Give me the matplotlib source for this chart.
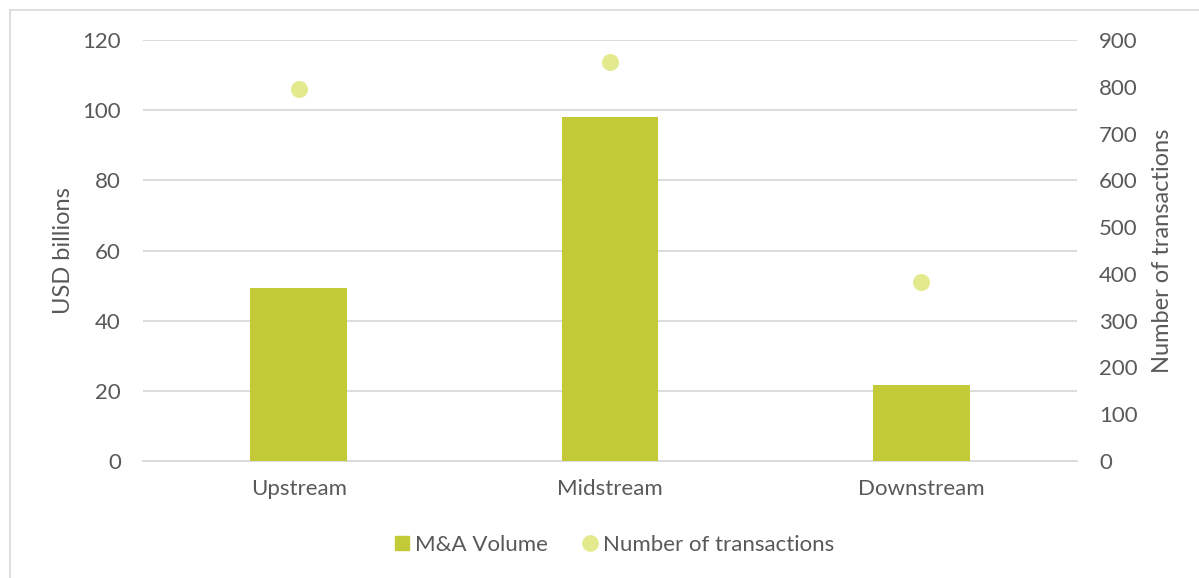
import matplotlib
matplotlib.use("Agg")
import matplotlib.pyplot as plt
from matplotlib.lines import Line2D

categories = ["Upstream", "Midstream", "Downstream"]
volume = [49.3, 98.0, 21.7]
transactions = [795, 853, 383]

BAR = "#c2ca38"
DOT = "#e3ea8e"
TXT = "#595959"
GRID = "#d9d9d9"

plt.rcParams['font.family'] = ['Lato', 'DejaVu Sans']
FS = 16
FT = 17

fig = plt.figure(figsize=(11.99, 5.78), dpi=100)
bx, by = 9.5 / 1199, 1 - 9.5 / 578
fig.add_artist(Line2D([bx, 1.0], [by, by], transform=fig.transFigure, color="#d9d9d9", linewidth=1.2))
fig.add_artist(Line2D([bx, bx], [0.0, by], transform=fig.transFigure, color="#d9d9d9", linewidth=1.2))

ax = fig.add_axes([0.1193, 0.2024, 0.7789, 0.7284])
x = list(range(len(categories)))
ax.bar(x, volume, width=0.31, color=BAR, zorder=3)
ax.set_xlim(-0.5, 2.5)
ax.set_ylim(0, 120)
ax.set_yticks(range(0, 121, 20))
ax.yaxis.grid(True, color=GRID, linewidth=1.3, zorder=0)
ax.set_axisbelow(True)
for s in ax.spines.values():
    s.set_visible(False)
ax.spines['bottom'].set_visible(True)
ax.spines['bottom'].set_color(GRID)
ax.spines['bottom'].set_linewidth(1.3)
ax.tick_params(axis='both', length=0, colors=TXT, labelsize=FS)
ax.tick_params(axis='y', pad=16)
ax.tick_params(axis='x', pad=13)
ax.set_xticks(x)
ax.set_xticklabels(categories)
ax.set_ylabel("USD billions", color=TXT, fontsize=FT, labelpad=6)

ax2 = ax.twinx()
ax2.scatter(x, transactions, s=150, color=DOT, zorder=4, linewidths=0)
ax2.set_ylim(0, 900)
ax2.set_yticks(range(0, 901, 100))
for s in ax2.spines.values():
    s.set_visible(False)
ax2.tick_params(axis='y', length=0, colors=TXT, labelsize=FS, pad=16)
ax2.set_ylabel("Number of transactions", color=TXT, fontsize=FT, labelpad=10)

handles = [Line2D([], [], marker='s', linestyle='none', color=BAR, markersize=10),
           Line2D([], [], marker='o', linestyle='none', color=DOT, markersize=11)]
fig.legend(handles, ["M&A Volume", "Number of transactions"], loc='center',
           bbox_to_anchor=(0.510, 0.057), ncol=2, frameon=False, fontsize=FS,
           labelcolor=TXT, handletextpad=0.0, columnspacing=1.3, handlelength=1.2)

fig.savefig("out.png", dpi=100)
